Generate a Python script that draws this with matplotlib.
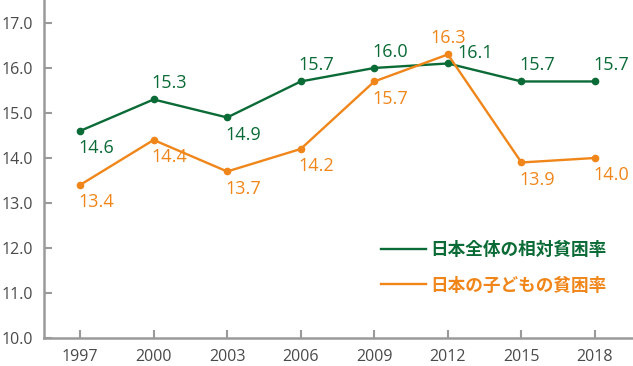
import matplotlib.pyplot as plt

plt.rcParams["font.family"] = ["Open Sans", "Noto Sans CJK JP", "DejaVu Sans"]

YEARS = [1997, 2000, 2003, 2006, 2009, 2012, 2015, 2018]
OVERALL = [14.6, 15.3, 14.9, 15.7, 16.0, 16.1, 15.7, 15.7]
CHILD = [13.4, 14.4, 13.7, 14.2, 15.7, 16.3, 13.9, 14.0]
LABEL_OVERALL = "日本全体の相対貧困率"
LABEL_CHILD = "日本の子どもの貧困率"

# where each value label goes: "a" above, "b" below, "r" right, "c" centred above
POS_OVERALL = ["b", "a", "b", "a", "a", "r", "a", "a"]
POS_CHILD = ["b", "b", "b", "b", "b", "c", "b", "b"]

GREEN = "#0b6b36"
ORANGE = "#f0861a"
GRAY = "#9a9a9a"

fig = plt.figure(figsize=(6.33, 3.66), dpi=100)
ax = fig.add_axes([0.0695, 0.0765, 0.9305, 0.9235])

ax.plot(YEARS, OVERALL, color=GREEN, lw=1.7, marker="o", ms=4.5, label=LABEL_OVERALL)
ax.plot(YEARS, CHILD, color=ORANGE, lw=1.7, marker="o", ms=4.5, label=LABEL_CHILD)


def put_labels(vals, pos, color):
    for x, v, p in zip(YEARS, vals, pos):
        if p == "a":
            off, ha, va = (-1.5, 8), "left", "baseline"
        elif p == "b":
            off, ha, va = (-1.5, -6), "left", "top"
        elif p == "c":
            off, ha, va = (0, 8), "center", "baseline"
        else:
            off, ha, va = (7, 4), "left", "baseline"
        ax.annotate(f"{v:.1f}", (x, v), xytext=off, textcoords="offset points",
                    ha=ha, va=va, color=color, fontsize=13)


put_labels(OVERALL, POS_OVERALL, GREEN)
put_labels(CHILD, POS_CHILD, ORANGE)

ax.set_xlim(1995.53, 2019.55)
ax.set_ylim(10, 17.51)
ax.set_xticks(YEARS)
ax.set_yticks([10, 11, 12, 13, 14, 15, 16, 17])
ax.set_yticklabels([f"{t:.1f}" for t in range(10, 18)])

for s in ["top", "right"]:
    ax.spines[s].set_visible(False)
for s in ["left", "bottom"]:
    ax.spines[s].set_color(GRAY)
    ax.spines[s].set_linewidth(1.8)

ax.tick_params(direction="in", length=6, width=1.5, color=GRAY,
               labelcolor="#4a4a4a", labelsize=11.5)
ax.tick_params(axis="y", pad=8)
ax.tick_params(axis="x", pad=8)

leg = ax.legend(loc="upper left", bbox_to_anchor=(0.545, 0.334), frameon=False,
                handlelength=2.53, handletextpad=0.25, labelspacing=1.0,
                prop={"family": "Noto Sans CJK JP", "size": 12.7, "weight": "bold"})
for txt, c in zip(leg.get_texts(), [GREEN, ORANGE]):
    txt.set_color(c)
for h in leg.legend_handles:
    h.set_marker("")

fig.savefig("out.png", dpi=100)
